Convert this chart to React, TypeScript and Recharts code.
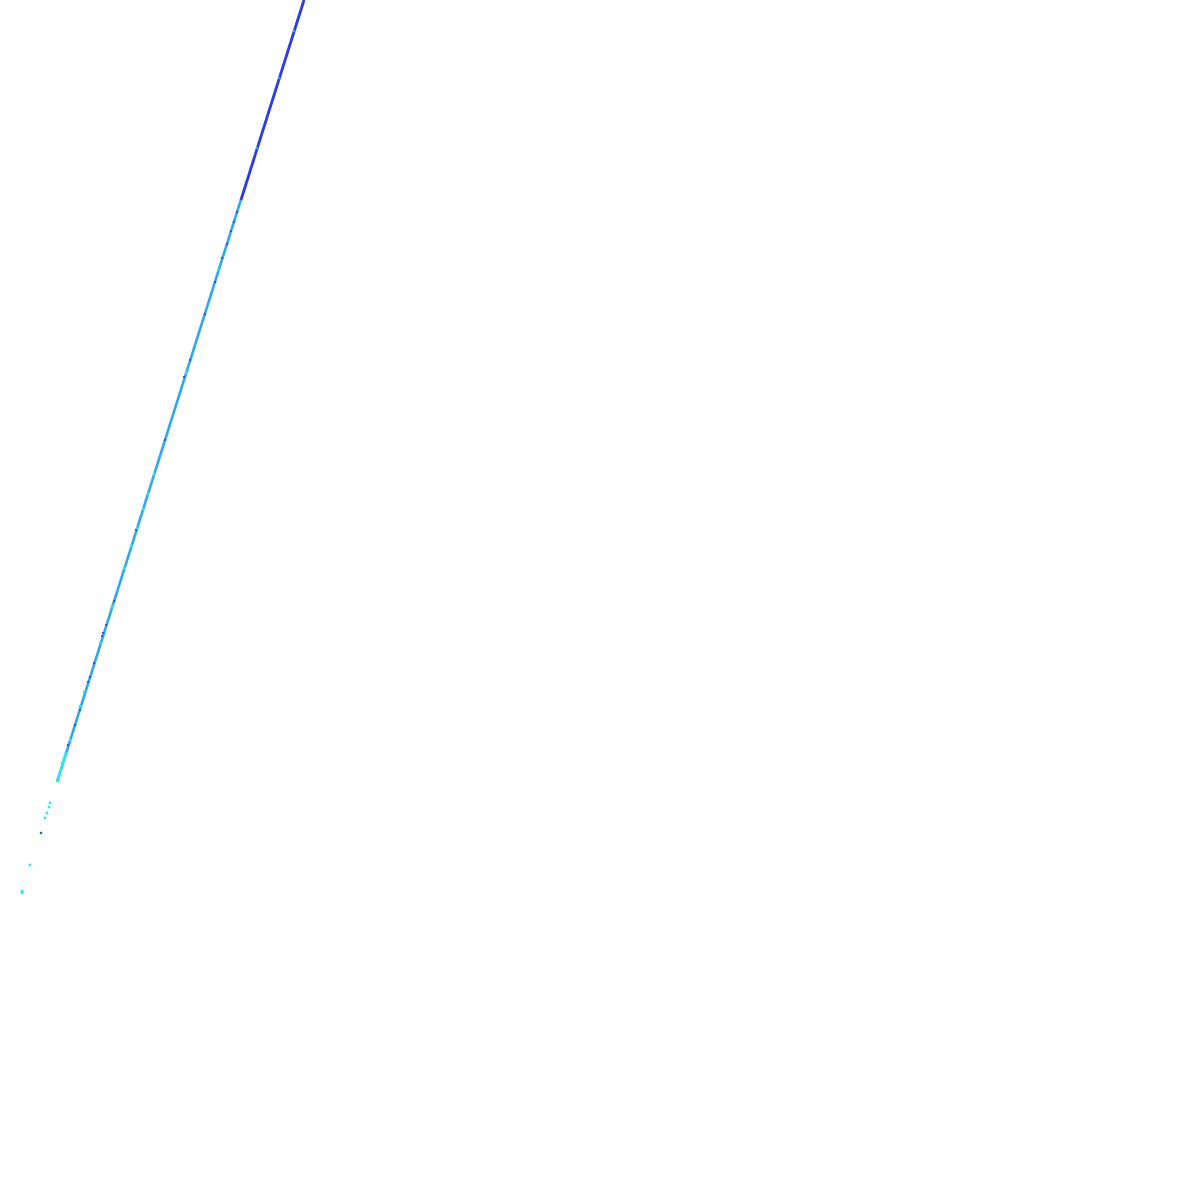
import { ComposedChart, Line, Scatter, XAxis, YAxis } from 'recharts';

const mainTrace = [
  { x: 57, y: 782 },
  { x: 304, y: 0 },
];

const darkTrace = [
  { x: 241, y: 200 },
  { x: 304, y: 0 },
];

const cyanTrace = [
  { x: 57, y: 782 },
  { x: 66, y: 752 },
];

const cyanSpecks = [
  { x: 50, y: 803 },
  { x: 49, y: 807 },
  { x: 47, y: 813 },
  { x: 45, y: 818 },
  { x: 41, y: 833 },
  { x: 30, y: 865 },
  { x: 22, y: 891 },
  { x: 22, y: 893 },
  { x: 70, y: 740 },
  { x: 80, y: 706 },
  { x: 84, y: 692 },
  { x: 100, y: 643 },
  { x: 112, y: 606 },
  { x: 124, y: 568 },
  { x: 131, y: 546 },
  { x: 137, y: 528 },
  { x: 143, y: 509 },
  { x: 148, y: 494 },
  { x: 154, y: 474 },
  { x: 186, y: 373 },
  { x: 218, y: 270 },
];

const midSpecks = [
  { x: 294, y: 31 },
  { x: 279, y: 78 },
  { x: 257, y: 148 },
];

const darkSpecks = [
  { x: 41, y: 833 },
  { x: 68, y: 745 },
  { x: 75, y: 725 },
  { x: 80, y: 710 },
  { x: 90, y: 677 },
  { x: 94, y: 663 },
  { x: 103, y: 633 },
  { x: 106, y: 625 },
  { x: 102, y: 636 },
  { x: 88, y: 682 },
  { x: 114, y: 601 },
  { x: 136, y: 530 },
  { x: 165, y: 440 },
  { x: 184, y: 377 },
  { x: 190, y: 360 },
  { x: 205, y: 314 },
  { x: 215, y: 282 },
  { x: 222, y: 258 },
  { x: 227, y: 244 },
  { x: 231, y: 231 },
  { x: 234, y: 222 },
  { x: 237, y: 212 },
];

const DARK = '#3535f0';
const MID = '#2ca8f0';
const CYAN = '#2ee8f0';

const speck = (color: string, r: number) => (props: any) => (
  <circle cx={props.cx} cy={props.cy} r={r} fill={color} />
);

export default function App() {
  return (
    <div style={{ position: 'absolute', left: 0, top: 0, width: 1200, height: 1200, background: '#fff' }}>
      <ComposedChart width={1200} height={1200} margin={{ top: 0, right: 0, bottom: 0, left: 0 }}>
        <XAxis type="number" dataKey="x" domain={[0, 1200]} hide />
        <YAxis type="number" dataKey="y" domain={[0, 1200]} reversed hide />
        <Line
          data={mainTrace}
          dataKey="y"
          stroke={MID}
          strokeWidth={2.6}
          dot={false}
          isAnimationActive={false}
        />
        <Line
          data={darkTrace}
          dataKey="y"
          stroke={DARK}
          strokeWidth={2.6}
          dot={false}
          isAnimationActive={false}
        />
        <Line
          data={cyanTrace}
          dataKey="y"
          stroke={CYAN}
          strokeWidth={2.6}
          dot={false}
          isAnimationActive={false}
        />
        <Scatter data={cyanSpecks} shape={speck(CYAN, 1.4)} isAnimationActive={false} />
        <Scatter data={midSpecks} shape={speck(MID, 1.2)} isAnimationActive={false} />
        <Scatter data={darkSpecks} shape={speck(DARK, 1.1)} isAnimationActive={false} />
      </ComposedChart>
    </div>
  );
}
